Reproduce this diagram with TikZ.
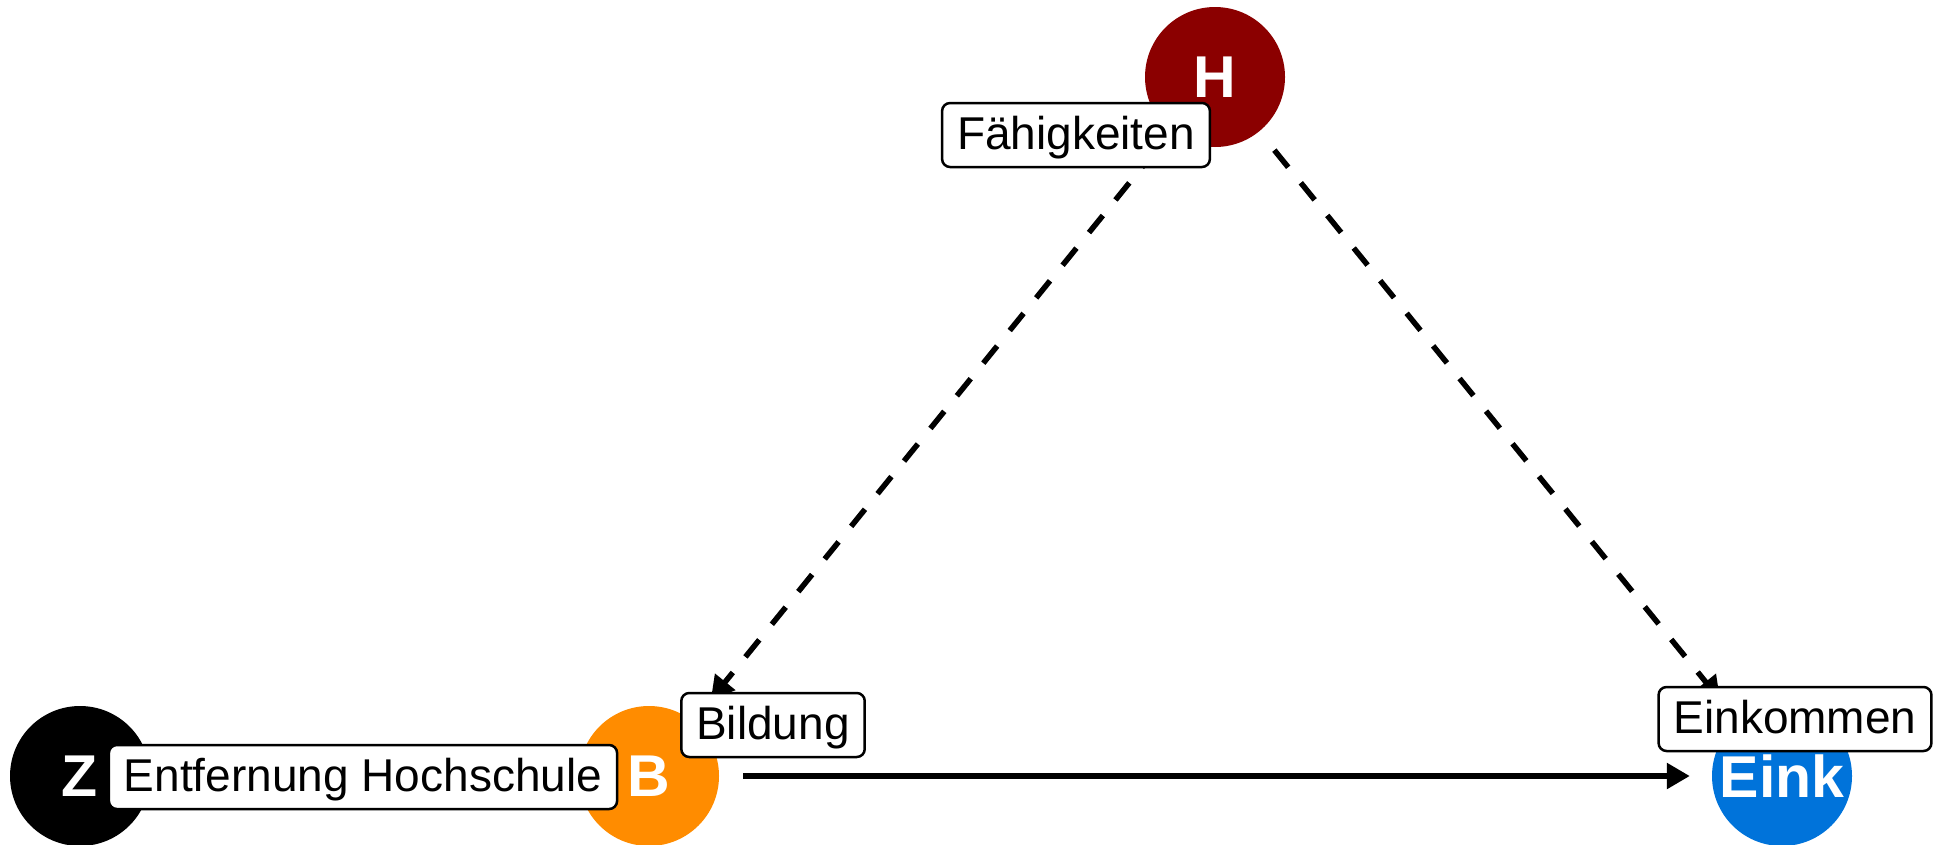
\documentclass[tikz,border=0pt]{standalone}
\usepackage{fontspec}
\setmainfont{Liberation Sans}
\usetikzlibrary{arrows.meta}
\definecolor{hcol}{HTML}{8B0000}
\definecolor{bcol}{HTML}{FF8C00}
\definecolor{ecol}{HTML}{0073DA}
\tikzset{
  var/.style={circle, minimum size=140pt, inner sep=0pt, text=white,
    font=\fontsize{59}{66}\selectfont\bfseries},
  lab/.style={draw=black, line width=2.5pt, fill=white, rounded corners=8pt,
    font=\fontsize{46}{52}\selectfont, inner xsep=15pt, inner ysep=10.5pt,
    text height=36pt, text depth=7pt},
  edge/.style={line width=5.5pt, -{Triangle[length=23pt, width=25pt]},
    shorten <=24pt, shorten >=28pt},
  dashededge/.style={edge, dash pattern=on 22pt off 20pt}
}
\begin{document}
\begin{tikzpicture}[x=1pt, y=-1pt]
\useasboundingbox (0,0) rectangle (1938,844);
% circles
\node[var, fill=hcol] (H) at (1215,77) {};
\node[var, fill=black] (Z) at (80,776) {};
\node[var, fill=bcol] (B) at (649,776) {};
\node[var, fill=ecol] (E) at (1782,776) {};
% edges
\draw[dashededge] (H) -- (B);
\draw[dashededge] (H) -- (E);
\draw[edge, shorten >=22pt] (B) -- (E);
% letters
\node[var] (Ht) at (H) {H};
\node[var] (Zt) at (Z) {Z};
\node[var] (Bt) at (B) {B};
\node[var] (Et) at (E) {Eink};
% labels
\node[lab] (Hl) at (1076,135) {Fähigkeiten};
\node[lab] (Bl) at (773,725) {Bildung};
\node[lab] (El) at (1795,719) {Einkommen};
\node[lab] (Zl) at (363,777) {Entfernung Hochschule};
\end{tikzpicture}
\end{document}
